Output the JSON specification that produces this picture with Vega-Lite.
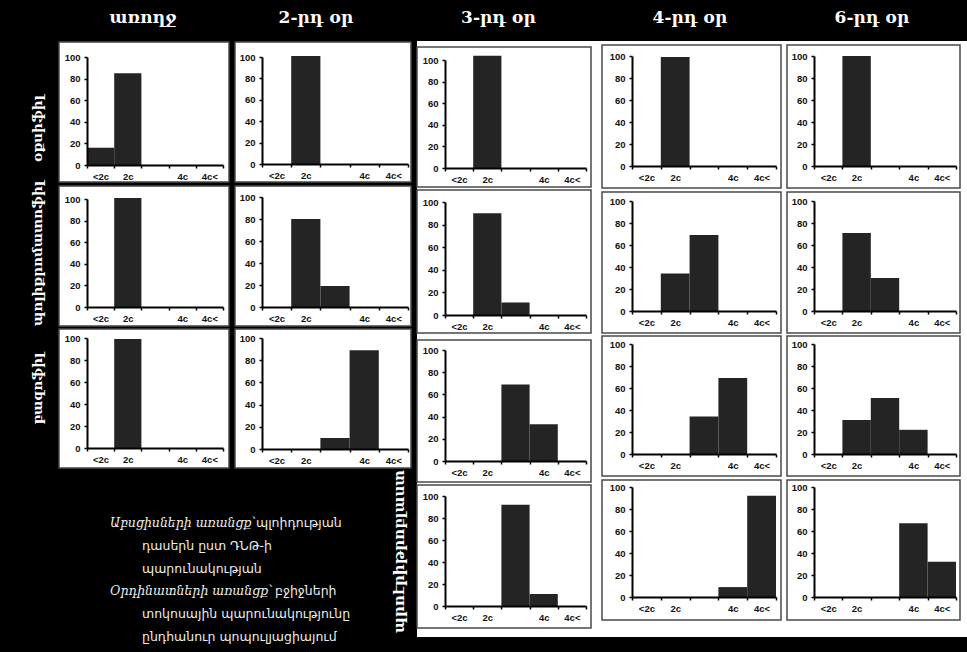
{
"$schema": "https://vega.github.io/schema/vega-lite/v6.json",
"background": "black",
"autosize": {"type": "none"},
"padding": {"left": 87, "top": 0, "right": 880, "bottom": 652},
"datasets": {
"hist": [
{"day": "առողջ", "cell": "օքսիֆիլ", "cls": "<2c", "pct": 16},
{"day": "առողջ", "cell": "օքսիֆիլ", "cls": "2c", "pct": 85},
{"day": "առողջ", "cell": "պոլիքրոմատոֆիլ", "cls": "2c", "pct": 101},
{"day": "առողջ", "cell": "բազոֆիլ", "cls": "2c", "pct": 99},
{"day": "2-րդ օր", "cell": "օքսիֆիլ", "cls": "2c", "pct": 101},
{"day": "2-րդ օր", "cell": "պոլիքրոմատոֆիլ", "cls": "2c", "pct": 80},
{"day": "2-րդ օր", "cell": "պոլիքրոմատոֆիլ", "cls": "2c–4c", "pct": 19},
{"day": "2-րդ օր", "cell": "բազոֆիլ", "cls": "2c–4c", "pct": 10},
{"day": "2-րդ օր", "cell": "բազոֆիլ", "cls": "4c", "pct": 89},
{"day": "3-րդ օր", "cell": "օքսիֆիլ", "cls": "2c", "pct": 104},
{"day": "3-րդ օր", "cell": "պոլիքրոմատոֆիլ", "cls": "2c", "pct": 90},
{"day": "3-րդ օր", "cell": "պոլիքրոմատոֆիլ", "cls": "2c–4c", "pct": 11},
{"day": "3-րդ օր", "cell": "բազոֆիլ", "cls": "2c–4c", "pct": 69},
{"day": "3-րդ օր", "cell": "բազոֆիլ", "cls": "4c", "pct": 33},
{"day": "3-րդ օր", "cell": "պրոէրիթրոբլաստ", "cls": "2c–4c", "pct": 92},
{"day": "3-րդ օր", "cell": "պրոէրիթրոբլաստ", "cls": "4c", "pct": 11},
{"day": "4-րդ օր", "cell": "օքսիֆիլ", "cls": "2c", "pct": 99},
{"day": "4-րդ օր", "cell": "պոլիքրոմատոֆիլ", "cls": "2c", "pct": 34},
{"day": "4-րդ օր", "cell": "պոլիքրոմատոֆիլ", "cls": "2c–4c", "pct": 69},
{"day": "4-րդ օր", "cell": "բազոֆիլ", "cls": "2c–4c", "pct": 34},
{"day": "4-րդ օր", "cell": "բազոֆիլ", "cls": "4c", "pct": 69},
{"day": "4-րդ օր", "cell": "պրոէրիթրոբլաստ", "cls": "4c", "pct": 9},
{"day": "4-րդ օր", "cell": "պրոէրիթրոբլաստ", "cls": "4c<", "pct": 92},
{"day": "6-րդ օր", "cell": "օքսիֆիլ", "cls": "2c", "pct": 100},
{"day": "6-րդ օր", "cell": "պոլիքրոմատոֆիլ", "cls": "2c", "pct": 71},
{"day": "6-րդ օր", "cell": "պոլիքրոմատոֆիլ", "cls": "2c–4c", "pct": 30},
{"day": "6-րդ օր", "cell": "բազոֆիլ", "cls": "2c", "pct": 31},
{"day": "6-րդ օր", "cell": "բազոֆիլ", "cls": "2c–4c", "pct": 51},
{"day": "6-րդ օր", "cell": "բազոֆիլ", "cls": "4c", "pct": 22},
{"day": "6-րդ օր", "cell": "պրոէրիթրոբլաստ", "cls": "4c", "pct": 67},
{"day": "6-րդ օր", "cell": "պրոէրիթրոբլաստ", "cls": "4c<", "pct": 32}
]
},
"columns": 9,
"align": "none",
"bounds": "flush",
"spacing": {"row": 20, "column": 0},
"concat": [
{"width": 136, "height": 36, "data": {"values": [{"day": "առողջ"}]}, "mark": {"type": "text", "font": "DejaVu Serif", "fontWeight": "bold", "fontSize": 17, "color": "white", "baseline": "middle", "dx": -12}, "encoding": {"text": {"field": "day"}}},
{"width": 39, "height": 36, "data": {"values": []}, "mark": "point"},
{"width": 146, "height": 36, "data": {"values": [{"day": "2-րդ օր"}]}, "mark": {"type": "text", "font": "DejaVu Serif", "fontWeight": "bold", "fontSize": 17, "color": "white", "baseline": "middle", "dx": -19}, "encoding": {"text": {"field": "day"}}},
{"width": 37, "height": 10, "data": {"values": []}, "mark": "point"},
{"width": 141, "height": 36, "data": {"values": [{"day": "3-րդ օր"}]}, "mark": {"type": "text", "font": "DejaVu Serif", "fontWeight": "bold", "fontSize": 17, "color": "white", "baseline": "middle", "dx": -17}, "encoding": {"text": {"field": "day"}}},
{"width": 46, "height": 10, "data": {"values": []}, "mark": "point"},
{"width": 144, "height": 36, "data": {"values": [{"day": "4-րդ օր"}]}, "mark": {"type": "text", "font": "DejaVu Serif", "fontWeight": "bold", "fontSize": 17, "color": "white", "baseline": "middle", "dx": -14}, "encoding": {"text": {"field": "day"}}},
{"width": 38, "height": 10, "data": {"values": []}, "mark": "point"},
{"width": 142, "height": 36, "data": {"values": [{"day": "6-րդ օր"}]}, "mark": {"type": "text", "font": "DejaVu Serif", "fontWeight": "bold", "fontSize": 17, "color": "white", "baseline": "middle", "dx": -13}, "encoding": {"text": {"field": "day"}}},

{"width": 136, "height": 109, "layer": [
 {"data": {"values": [{}]}, "mark": {"type": "rect", "fill": "white", "stroke": "#4a4a4a", "strokeWidth": 1.5, "xOffset": -28, "x2Offset": 6, "yOffset": -14, "y2Offset": 17}, "encoding": {"x": {"value": 0}, "x2": {"value": "width"}, "y": {"value": 0}, "y2": {"value": "height"}}},
 {"data": {"name": "hist"}, "transform": [{"filter": "datum.day === 'առողջ' && datum.cell === 'օքսիֆիլ'"}], "mark": {"type": "bar", "color": "#242424"},
  "encoding": {"x": {"field": "cls", "type": "ordinal", "scale": {"domain": ["<2c", "2c", "2c–4c", "4c", "4c<"], "paddingInner": 0, "paddingOuter": 0}, "axis": {"title": null, "zindex": 1, "tickBand": "extent", "labelExpr": "datum.value === '2c–4c' ? '' : datum.value"}},
   "y": {"field": "pct", "type": "quantitative", "scale": {"domain": [0, 100], "nice": false, "range": [109, 1]}, "axis": {"title": "օքսիֆիլ", "titleY": 72, "zindex": 1, "labelOverlap": false, "values": [0, 20, 40, 60, 80, 100]}}}}
]},
{"width": 39, "height": 121, "data": {"values": []}, "mark": "point"},
{"width": 146, "height": 108, "layer": [
 {"data": {"values": [{}]}, "mark": {"type": "rect", "fill": "white", "stroke": "#4a4a4a", "strokeWidth": 1.5, "xOffset": -27, "x2Offset": 3, "yOffset": -14, "y2Offset": 18}, "encoding": {"x": {"value": 0}, "x2": {"value": "width"}, "y": {"value": 0}, "y2": {"value": "height"}}},
 {"data": {"name": "hist"}, "transform": [{"filter": "datum.day === '2-րդ օր' && datum.cell === 'օքսիֆիլ'"}], "mark": {"type": "bar", "color": "#242424"},
  "encoding": {"x": {"field": "cls", "type": "ordinal", "scale": {"domain": ["<2c", "2c", "2c–4c", "4c", "4c<"], "paddingInner": 0, "paddingOuter": 0}, "axis": {"title": null, "zindex": 1, "tickBand": "extent", "labelExpr": "datum.value === '2c–4c' ? '' : datum.value"}},
   "y": {"field": "pct", "type": "quantitative", "scale": {"domain": [0, 100], "nice": false, "range": [108, 1]}, "axis": {"title": null, "zindex": 1, "labelOverlap": false, "values": [0, 20, 40, 60, 80, 100]}}}}
]},
{"width": 37, "height": 10, "data": {"values": []}, "mark": "point"},
{"width": 141, "height": 112, "layer": [
 {"data": {"values": [{}]}, "mark": {"type": "rect", "fill": "white", "xOffset": -28, "x2Offset": 381, "yOffset": -15, "y2Offset": 469}, "encoding": {"x": {"value": 0}, "x2": {"value": "width"}, "y": {"value": 0}, "y2": {"value": "height"}}},
 {"data": {"values": [{}]}, "mark": {"type": "rect", "fill": "white", "stroke": "#4a4a4a", "strokeWidth": 1.5, "xOffset": -28, "x2Offset": 5, "yOffset": -9, "y2Offset": 19}, "encoding": {"x": {"value": 0}, "x2": {"value": "width"}, "y": {"value": 0}, "y2": {"value": "height"}}},
 {"data": {"name": "hist"}, "transform": [{"filter": "datum.day === '3-րդ օր' && datum.cell === 'օքսիֆիլ'"}], "mark": {"type": "bar", "color": "#242424"},
  "encoding": {"x": {"field": "cls", "type": "ordinal", "scale": {"domain": ["<2c", "2c", "2c–4c", "4c", "4c<"], "paddingInner": 0, "paddingOuter": 0}, "axis": {"title": null, "zindex": 1, "tickBand": "extent", "labelExpr": "datum.value === '2c–4c' ? '' : datum.value"}},
   "y": {"field": "pct", "type": "quantitative", "scale": {"domain": [0, 100], "nice": false, "range": [112, 4]}, "axis": {"title": null, "zindex": 1, "labelOverlap": false, "values": [0, 20, 40, 60, 80, 100]}}}}
]},
{"width": 46, "height": 10, "data": {"values": []}, "mark": "point"},
{"width": 144, "height": 110, "layer": [
 {"data": {"values": [{}]}, "mark": {"type": "rect", "fill": "white", "stroke": "#4a4a4a", "strokeWidth": 1.5, "xOffset": -30, "x2Offset": 5, "yOffset": -11, "y2Offset": 22}, "encoding": {"x": {"value": 0}, "x2": {"value": "width"}, "y": {"value": 0}, "y2": {"value": "height"}}},
 {"data": {"name": "hist"}, "transform": [{"filter": "datum.day === '4-րդ օր' && datum.cell === 'օքսիֆիլ'"}], "mark": {"type": "bar", "color": "#242424"},
  "encoding": {"x": {"field": "cls", "type": "ordinal", "scale": {"domain": ["<2c", "2c", "2c–4c", "4c", "4c<"], "paddingInner": 0, "paddingOuter": 0}, "axis": {"title": null, "zindex": 1, "tickBand": "extent", "labelExpr": "datum.value === '2c–4c' ? '' : datum.value"}},
   "y": {"field": "pct", "type": "quantitative", "scale": {"domain": [0, 100], "nice": false, "range": [110, 0]}, "axis": {"title": null, "zindex": 1, "labelOverlap": false, "values": [0, 20, 40, 60, 80, 100]}}}}
]},
{"width": 38, "height": 10, "data": {"values": []}, "mark": "point"},
{"width": 142, "height": 110, "layer": [
 {"data": {"values": [{}]}, "mark": {"type": "rect", "fill": "white", "stroke": "#4a4a4a", "strokeWidth": 1.5, "xOffset": -27, "x2Offset": 4, "yOffset": -11, "y2Offset": 22}, "encoding": {"x": {"value": 0}, "x2": {"value": "width"}, "y": {"value": 0}, "y2": {"value": "height"}}},
 {"data": {"name": "hist"}, "transform": [{"filter": "datum.day === '6-րդ օր' && datum.cell === 'օքսիֆիլ'"}], "mark": {"type": "bar", "color": "#242424"},
  "encoding": {"x": {"field": "cls", "type": "ordinal", "scale": {"domain": ["<2c", "2c", "2c–4c", "4c", "4c<"], "paddingInner": 0, "paddingOuter": 0}, "axis": {"title": null, "zindex": 1, "tickBand": "extent", "labelExpr": "datum.value === '2c–4c' ? '' : datum.value"}},
   "y": {"field": "pct", "type": "quantitative", "scale": {"domain": [0, 100], "nice": false, "range": [110, 0]}, "axis": {"title": null, "zindex": 1, "labelOverlap": false, "values": [0, 20, 40, 60, 80, 100]}}}}
]},

{"width": 136, "height": 110, "layer": [
 {"data": {"values": [{}]}, "mark": {"type": "rect", "fill": "white", "stroke": "#4a4a4a", "strokeWidth": 1.5, "xOffset": -28, "x2Offset": 6, "yOffset": -11, "y2Offset": 19}, "encoding": {"x": {"value": 0}, "x2": {"value": "width"}, "y": {"value": 0}, "y2": {"value": "height"}}},
 {"data": {"name": "hist"}, "transform": [{"filter": "datum.day === 'առողջ' && datum.cell === 'պոլիքրոմատոֆիլ'"}], "mark": {"type": "bar", "color": "#242424"},
  "encoding": {"x": {"field": "cls", "type": "ordinal", "scale": {"domain": ["<2c", "2c", "2c–4c", "4c", "4c<"], "paddingInner": 0, "paddingOuter": 0}, "axis": {"title": null, "zindex": 1, "tickBand": "extent", "labelExpr": "datum.value === '2c–4c' ? '' : datum.value"}},
   "y": {"field": "pct", "type": "quantitative", "scale": {"domain": [0, 100], "nice": false, "range": [110, 2]}, "axis": {"title": "պոլիքրոմատոֆիլ", "zindex": 1, "labelOverlap": false, "values": [0, 20, 40, 60, 80, 100]}}}}
]},
{"width": 39, "height": 121, "data": {"values": []}, "mark": "point"},
{"width": 146, "height": 110, "layer": [
 {"data": {"values": [{}]}, "mark": {"type": "rect", "fill": "white", "stroke": "#4a4a4a", "strokeWidth": 1.5, "xOffset": -27, "x2Offset": 3, "yOffset": -11, "y2Offset": 19}, "encoding": {"x": {"value": 0}, "x2": {"value": "width"}, "y": {"value": 0}, "y2": {"value": "height"}}},
 {"data": {"name": "hist"}, "transform": [{"filter": "datum.day === '2-րդ օր' && datum.cell === 'պոլիքրոմատոֆիլ'"}], "mark": {"type": "bar", "color": "#242424"},
  "encoding": {"x": {"field": "cls", "type": "ordinal", "scale": {"domain": ["<2c", "2c", "2c–4c", "4c", "4c<"], "paddingInner": 0, "paddingOuter": 0}, "axis": {"title": null, "zindex": 1, "tickBand": "extent", "labelExpr": "datum.value === '2c–4c' ? '' : datum.value"}},
   "y": {"field": "pct", "type": "quantitative", "scale": {"domain": [0, 100], "nice": false, "range": [110, 0]}, "axis": {"title": null, "zindex": 1, "labelOverlap": false, "values": [0, 20, 40, 60, 80, 100]}}}}
]},
{"width": 37, "height": 10, "data": {"values": []}, "mark": "point"},
{"width": 141, "height": 118, "layer": [
 {"data": {"values": [{}]}, "mark": {"type": "rect", "fill": "white", "stroke": "#4a4a4a", "strokeWidth": 1.5, "xOffset": -28, "x2Offset": 5, "yOffset": -7, "y2Offset": 18}, "encoding": {"x": {"value": 0}, "x2": {"value": "width"}, "y": {"value": 0}, "y2": {"value": "height"}}},
 {"data": {"name": "hist"}, "transform": [{"filter": "datum.day === '3-րդ օր' && datum.cell === 'պոլիքրոմատոֆիլ'"}], "mark": {"type": "bar", "color": "#242424"},
  "encoding": {"x": {"field": "cls", "type": "ordinal", "scale": {"domain": ["<2c", "2c", "2c–4c", "4c", "4c<"], "paddingInner": 0, "paddingOuter": 0}, "axis": {"title": null, "zindex": 1, "tickBand": "extent", "labelExpr": "datum.value === '2c–4c' ? '' : datum.value"}},
   "y": {"field": "pct", "type": "quantitative", "scale": {"domain": [0, 100], "nice": false, "range": [118, 5]}, "axis": {"title": null, "zindex": 1, "labelOverlap": false, "values": [0, 20, 40, 60, 80, 100]}}}}
]},
{"width": 46, "height": 10, "data": {"values": []}, "mark": "point"},
{"width": 144, "height": 114, "layer": [
 {"data": {"values": [{}]}, "mark": {"type": "rect", "fill": "white", "stroke": "#4a4a4a", "strokeWidth": 1.5, "xOffset": -30, "x2Offset": 5, "yOffset": -5, "y2Offset": 22}, "encoding": {"x": {"value": 0}, "x2": {"value": "width"}, "y": {"value": 0}, "y2": {"value": "height"}}},
 {"data": {"name": "hist"}, "transform": [{"filter": "datum.day === '4-րդ օր' && datum.cell === 'պոլիքրոմատոֆիլ'"}], "mark": {"type": "bar", "color": "#242424"},
  "encoding": {"x": {"field": "cls", "type": "ordinal", "scale": {"domain": ["<2c", "2c", "2c–4c", "4c", "4c<"], "paddingInner": 0, "paddingOuter": 0}, "axis": {"title": null, "zindex": 1, "tickBand": "extent", "labelExpr": "datum.value === '2c–4c' ? '' : datum.value"}},
   "y": {"field": "pct", "type": "quantitative", "scale": {"domain": [0, 100], "nice": false, "range": [114, 4]}, "axis": {"title": null, "zindex": 1, "labelOverlap": false, "values": [0, 20, 40, 60, 80, 100]}}}}
]},
{"width": 38, "height": 10, "data": {"values": []}, "mark": "point"},
{"width": 142, "height": 114, "layer": [
 {"data": {"values": [{}]}, "mark": {"type": "rect", "fill": "white", "stroke": "#4a4a4a", "strokeWidth": 1.5, "xOffset": -27, "x2Offset": 4, "yOffset": -5, "y2Offset": 22}, "encoding": {"x": {"value": 0}, "x2": {"value": "width"}, "y": {"value": 0}, "y2": {"value": "height"}}},
 {"data": {"name": "hist"}, "transform": [{"filter": "datum.day === '6-րդ օր' && datum.cell === 'պոլիքրոմատոֆիլ'"}], "mark": {"type": "bar", "color": "#242424"},
  "encoding": {"x": {"field": "cls", "type": "ordinal", "scale": {"domain": ["<2c", "2c", "2c–4c", "4c", "4c<"], "paddingInner": 0, "paddingOuter": 0}, "axis": {"title": null, "zindex": 1, "tickBand": "extent", "labelExpr": "datum.value === '2c–4c' ? '' : datum.value"}},
   "y": {"field": "pct", "type": "quantitative", "scale": {"domain": [0, 100], "nice": false, "range": [114, 4]}, "axis": {"title": null, "zindex": 1, "labelOverlap": false, "values": [0, 20, 40, 60, 80, 100]}}}}
]},

{"width": 136, "height": 110, "layer": [
 {"data": {"values": [{}]}, "mark": {"type": "rect", "fill": "white", "stroke": "#4a4a4a", "strokeWidth": 1.5, "xOffset": -28, "x2Offset": 6, "yOffset": -9, "y2Offset": 20}, "encoding": {"x": {"value": 0}, "x2": {"value": "width"}, "y": {"value": 0}, "y2": {"value": "height"}}},
 {"data": {"name": "hist"}, "transform": [{"filter": "datum.day === 'առողջ' && datum.cell === 'բազոֆիլ'"}], "mark": {"type": "bar", "color": "#242424"},
  "encoding": {"x": {"field": "cls", "type": "ordinal", "scale": {"domain": ["<2c", "2c", "2c–4c", "4c", "4c<"], "paddingInner": 0, "paddingOuter": 0}, "axis": {"title": null, "zindex": 1, "tickBand": "extent", "labelExpr": "datum.value === '2c–4c' ? '' : datum.value"}},
   "y": {"field": "pct", "type": "quantitative", "scale": {"domain": [0, 100], "nice": false, "range": [110, 0]}, "axis": {"title": "բազոֆիլ", "titleY": 50, "zindex": 1, "labelOverlap": false, "values": [0, 20, 40, 60, 80, 100]}}}}
]},
{"width": 39, "height": 129, "data": {"values": []}, "mark": "point"},
{"width": 146, "height": 111, "layer": [
 {"data": {"values": [{}]}, "mark": {"type": "rect", "fill": "white", "stroke": "#4a4a4a", "strokeWidth": 1.5, "xOffset": -27, "x2Offset": 3, "yOffset": -9, "y2Offset": 19}, "encoding": {"x": {"value": 0}, "x2": {"value": "width"}, "y": {"value": 0}, "y2": {"value": "height"}}},
 {"data": {"name": "hist"}, "transform": [{"filter": "datum.day === '2-րդ օր' && datum.cell === 'բազոֆիլ'"}], "mark": {"type": "bar", "color": "#242424"},
  "encoding": {"x": {"field": "cls", "type": "ordinal", "scale": {"domain": ["<2c", "2c", "2c–4c", "4c", "4c<"], "paddingInner": 0, "paddingOuter": 0}, "axis": {"title": null, "zindex": 1, "tickBand": "extent", "labelExpr": "datum.value === '2c–4c' ? '' : datum.value"}},
   "y": {"field": "pct", "type": "quantitative", "scale": {"domain": [0, 100], "nice": false, "range": [111, 0]}, "axis": {"title": null, "zindex": 1, "labelOverlap": false, "values": [0, 20, 40, 60, 80, 100]}}}}
]},
{"width": 37, "height": 10, "data": {"values": []}, "mark": "point"},
{"width": 141, "height": 123, "layer": [
 {"data": {"values": [{}]}, "mark": {"type": "rect", "fill": "white", "stroke": "#4a4a4a", "strokeWidth": 1.5, "xOffset": -28, "x2Offset": 5, "yOffset": 2, "y2Offset": 21}, "encoding": {"x": {"value": 0}, "x2": {"value": "width"}, "y": {"value": 0}, "y2": {"value": "height"}}},
 {"data": {"name": "hist"}, "transform": [{"filter": "datum.day === '3-րդ օր' && datum.cell === 'բազոֆիլ'"}], "mark": {"type": "bar", "color": "#242424"},
  "encoding": {"x": {"field": "cls", "type": "ordinal", "scale": {"domain": ["<2c", "2c", "2c–4c", "4c", "4c<"], "paddingInner": 0, "paddingOuter": 0}, "axis": {"title": null, "zindex": 1, "tickBand": "extent", "labelExpr": "datum.value === '2c–4c' ? '' : datum.value"}},
   "y": {"field": "pct", "type": "quantitative", "scale": {"domain": [0, 100], "nice": false, "range": [123, 12]}, "axis": {"title": null, "zindex": 1, "labelOverlap": false, "values": [0, 20, 40, 60, 80, 100]}}}}
]},
{"width": 46, "height": 10, "data": {"values": []}, "mark": "point"},
{"width": 144, "height": 116, "layer": [
 {"data": {"values": [{}]}, "mark": {"type": "rect", "fill": "white", "stroke": "#4a4a4a", "strokeWidth": 1.5, "xOffset": -30, "x2Offset": 5, "yOffset": -2, "y2Offset": 22}, "encoding": {"x": {"value": 0}, "x2": {"value": "width"}, "y": {"value": 0}, "y2": {"value": "height"}}},
 {"data": {"name": "hist"}, "transform": [{"filter": "datum.day === '4-րդ օր' && datum.cell === 'բազոֆիլ'"}], "mark": {"type": "bar", "color": "#242424"},
  "encoding": {"x": {"field": "cls", "type": "ordinal", "scale": {"domain": ["<2c", "2c", "2c–4c", "4c", "4c<"], "paddingInner": 0, "paddingOuter": 0}, "axis": {"title": null, "zindex": 1, "tickBand": "extent", "labelExpr": "datum.value === '2c–4c' ? '' : datum.value"}},
   "y": {"field": "pct", "type": "quantitative", "scale": {"domain": [0, 100], "nice": false, "range": [116, 6]}, "axis": {"title": null, "zindex": 1, "labelOverlap": false, "values": [0, 20, 40, 60, 80, 100]}}}}
]},
{"width": 38, "height": 10, "data": {"values": []}, "mark": "point"},
{"width": 142, "height": 116, "layer": [
 {"data": {"values": [{}]}, "mark": {"type": "rect", "fill": "white", "stroke": "#4a4a4a", "strokeWidth": 1.5, "xOffset": -27, "x2Offset": 4, "yOffset": -2, "y2Offset": 22}, "encoding": {"x": {"value": 0}, "x2": {"value": "width"}, "y": {"value": 0}, "y2": {"value": "height"}}},
 {"data": {"name": "hist"}, "transform": [{"filter": "datum.day === '6-րդ օր' && datum.cell === 'բազոֆիլ'"}], "mark": {"type": "bar", "color": "#242424"},
  "encoding": {"x": {"field": "cls", "type": "ordinal", "scale": {"domain": ["<2c", "2c", "2c–4c", "4c", "4c<"], "paddingInner": 0, "paddingOuter": 0}, "axis": {"title": null, "zindex": 1, "tickBand": "extent", "labelExpr": "datum.value === '2c–4c' ? '' : datum.value"}},
   "y": {"field": "pct", "type": "quantitative", "scale": {"domain": [0, 100], "nice": false, "range": [116, 6]}, "axis": {"title": null, "zindex": 1, "labelOverlap": false, "values": [0, 20, 40, 60, 80, 100]}}}}
]},

{"width": 136, "height": 160, "layer": [
 {"data": {"values": [{"line": 1, "text": "Աբսցիսների առանցք՝"}, {"line": 4, "text": "Օրդինատների առանցք՝"}]}, "mark": {"type": "text", "align": "left", "baseline": "middle", "font": "DejaVu Serif", "fontStyle": "italic", "fontSize": 12.5, "color": "#eeeeee", "dx": -45},
  "encoding": {"y": {"field": "line", "type": "quantitative", "scale": {"domain": [-0.6, 6.46], "reverse": true, "nice": false, "zero": false}, "axis": null}, "text": {"field": "text"}}},
 {"data": {"values": [{"line": 1, "text": "պլոիդության"}]}, "mark": {"type": "text", "align": "left", "baseline": "middle", "font": "DejaVu Sans", "fontSize": 12.5, "color": "#eeeeee", "dx": 101},
  "encoding": {"y": {"field": "line", "type": "quantitative"}, "text": {"field": "text"}}},
 {"data": {"values": [{"line": 4, "text": "բջիջների"}]}, "mark": {"type": "text", "align": "left", "baseline": "middle", "font": "DejaVu Sans", "fontSize": 12.5, "color": "#eeeeee", "dx": 120},
  "encoding": {"y": {"field": "line", "type": "quantitative"}, "text": {"field": "text"}}},
 {"data": {"values": [{"line": 2, "text": "դասերն ըստ ԴՆԹ-ի"}, {"line": 3, "text": "պարունակության"}, {"line": 5, "text": "տոկոսային պարունակությունը"}, {"line": 6, "text": "ընդհանուր պոպուլյացիայում"}]}, "mark": {"type": "text", "align": "left", "baseline": "middle", "font": "DejaVu Sans", "fontSize": 12.5, "color": "#eeeeee", "dx": -13},
  "encoding": {"y": {"field": "line", "type": "quantitative"}, "text": {"field": "text"}}}
]},
{"width": 39, "height": 160, "data": {"values": []}, "mark": "point"},
{"width": 146, "height": 10, "data": {"values": []}, "mark": "point"},
{"width": 37, "height": 10, "data": {"values": []}, "mark": "point"},
{"width": 141, "height": 119, "layer": [
 {"data": {"values": [{}]}, "mark": {"type": "rect", "fill": "white", "stroke": "#4a4a4a", "strokeWidth": 1.5, "xOffset": -28, "x2Offset": 5, "yOffset": -2, "y2Offset": 22}, "encoding": {"x": {"value": 0}, "x2": {"value": "width"}, "y": {"value": 0}, "y2": {"value": "height"}}},
 {"data": {"name": "hist"}, "transform": [{"filter": "datum.day === '3-րդ օր' && datum.cell === 'պրոէրիթրոբլաստ'"}], "mark": {"type": "bar", "color": "#242424"},
  "encoding": {"x": {"field": "cls", "type": "ordinal", "scale": {"domain": ["<2c", "2c", "2c–4c", "4c", "4c<"], "paddingInner": 0, "paddingOuter": 0}, "axis": {"title": null, "zindex": 1, "tickBand": "extent", "labelExpr": "datum.value === '2c–4c' ? '' : datum.value"}},
   "y": {"field": "pct", "type": "quantitative", "scale": {"domain": [0, 100], "nice": false, "range": [119, 9]}, "axis": {"title": "պրոէրիթրոբլաստ", "titleFontSize": 15, "titlePadding": 16, "zindex": 1, "labelOverlap": false, "values": [0, 20, 40, 60, 80, 100]}}}}
]},
{"width": 46, "height": 10, "data": {"values": []}, "mark": "point"},
{"width": 144, "height": 110, "layer": [
 {"data": {"values": [{}]}, "mark": {"type": "rect", "fill": "white", "stroke": "#4a4a4a", "strokeWidth": 1.5, "xOffset": -30, "x2Offset": 5, "yOffset": -7, "y2Offset": 23}, "encoding": {"x": {"value": 0}, "x2": {"value": "width"}, "y": {"value": 0}, "y2": {"value": "height"}}},
 {"data": {"name": "hist"}, "transform": [{"filter": "datum.day === '4-րդ օր' && datum.cell === 'պրոէրիթրոբլաստ'"}], "mark": {"type": "bar", "color": "#242424"},
  "encoding": {"x": {"field": "cls", "type": "ordinal", "scale": {"domain": ["<2c", "2c", "2c–4c", "4c", "4c<"], "paddingInner": 0, "paddingOuter": 0}, "axis": {"title": null, "zindex": 1, "tickBand": "extent", "labelExpr": "datum.value === '2c–4c' ? '' : datum.value"}},
   "y": {"field": "pct", "type": "quantitative", "scale": {"domain": [0, 100], "nice": false, "range": [110, 0]}, "axis": {"title": null, "zindex": 1, "labelOverlap": false, "values": [0, 20, 40, 60, 80, 100]}}}}
]},
{"width": 38, "height": 10, "data": {"values": []}, "mark": "point"},
{"width": 142, "height": 110, "layer": [
 {"data": {"values": [{}]}, "mark": {"type": "rect", "fill": "white", "stroke": "#4a4a4a", "strokeWidth": 1.5, "xOffset": -27, "x2Offset": 4, "yOffset": -7, "y2Offset": 23}, "encoding": {"x": {"value": 0}, "x2": {"value": "width"}, "y": {"value": 0}, "y2": {"value": "height"}}},
 {"data": {"name": "hist"}, "transform": [{"filter": "datum.day === '6-րդ օր' && datum.cell === 'պրոէրիթրոբլաստ'"}], "mark": {"type": "bar", "color": "#242424"},
  "encoding": {"x": {"field": "cls", "type": "ordinal", "scale": {"domain": ["<2c", "2c", "2c–4c", "4c", "4c<"], "paddingInner": 0, "paddingOuter": 0}, "axis": {"title": null, "zindex": 1, "tickBand": "extent", "labelExpr": "datum.value === '2c–4c' ? '' : datum.value"}},
   "y": {"field": "pct", "type": "quantitative", "scale": {"domain": [0, 100], "nice": false, "range": [110, 0]}, "axis": {"title": null, "zindex": 1, "labelOverlap": false, "values": [0, 20, 40, 60, 80, 100]}}}}
]}
],
"config": {
 "view": {"stroke": null},
 "axis": {"domainColor": "black", "domainWidth": 2, "tickColor": "black", "tickWidth": 1.5, "tickSize": 3, "labelFont": "Liberation Sans", "labelFontWeight": "bold", "labelFontSize": 9.5, "labelColor": "#111", "grid": false, "titleFont": "DejaVu Serif", "titleFontWeight": "bold", "titleFontSize": 13.5, "titleColor": "white"},
 "axisX": {"labelAngle": 0, "labelPadding": 3},
 "axisY": {"labelPadding": 4, "titlePadding": 20}
}
}
